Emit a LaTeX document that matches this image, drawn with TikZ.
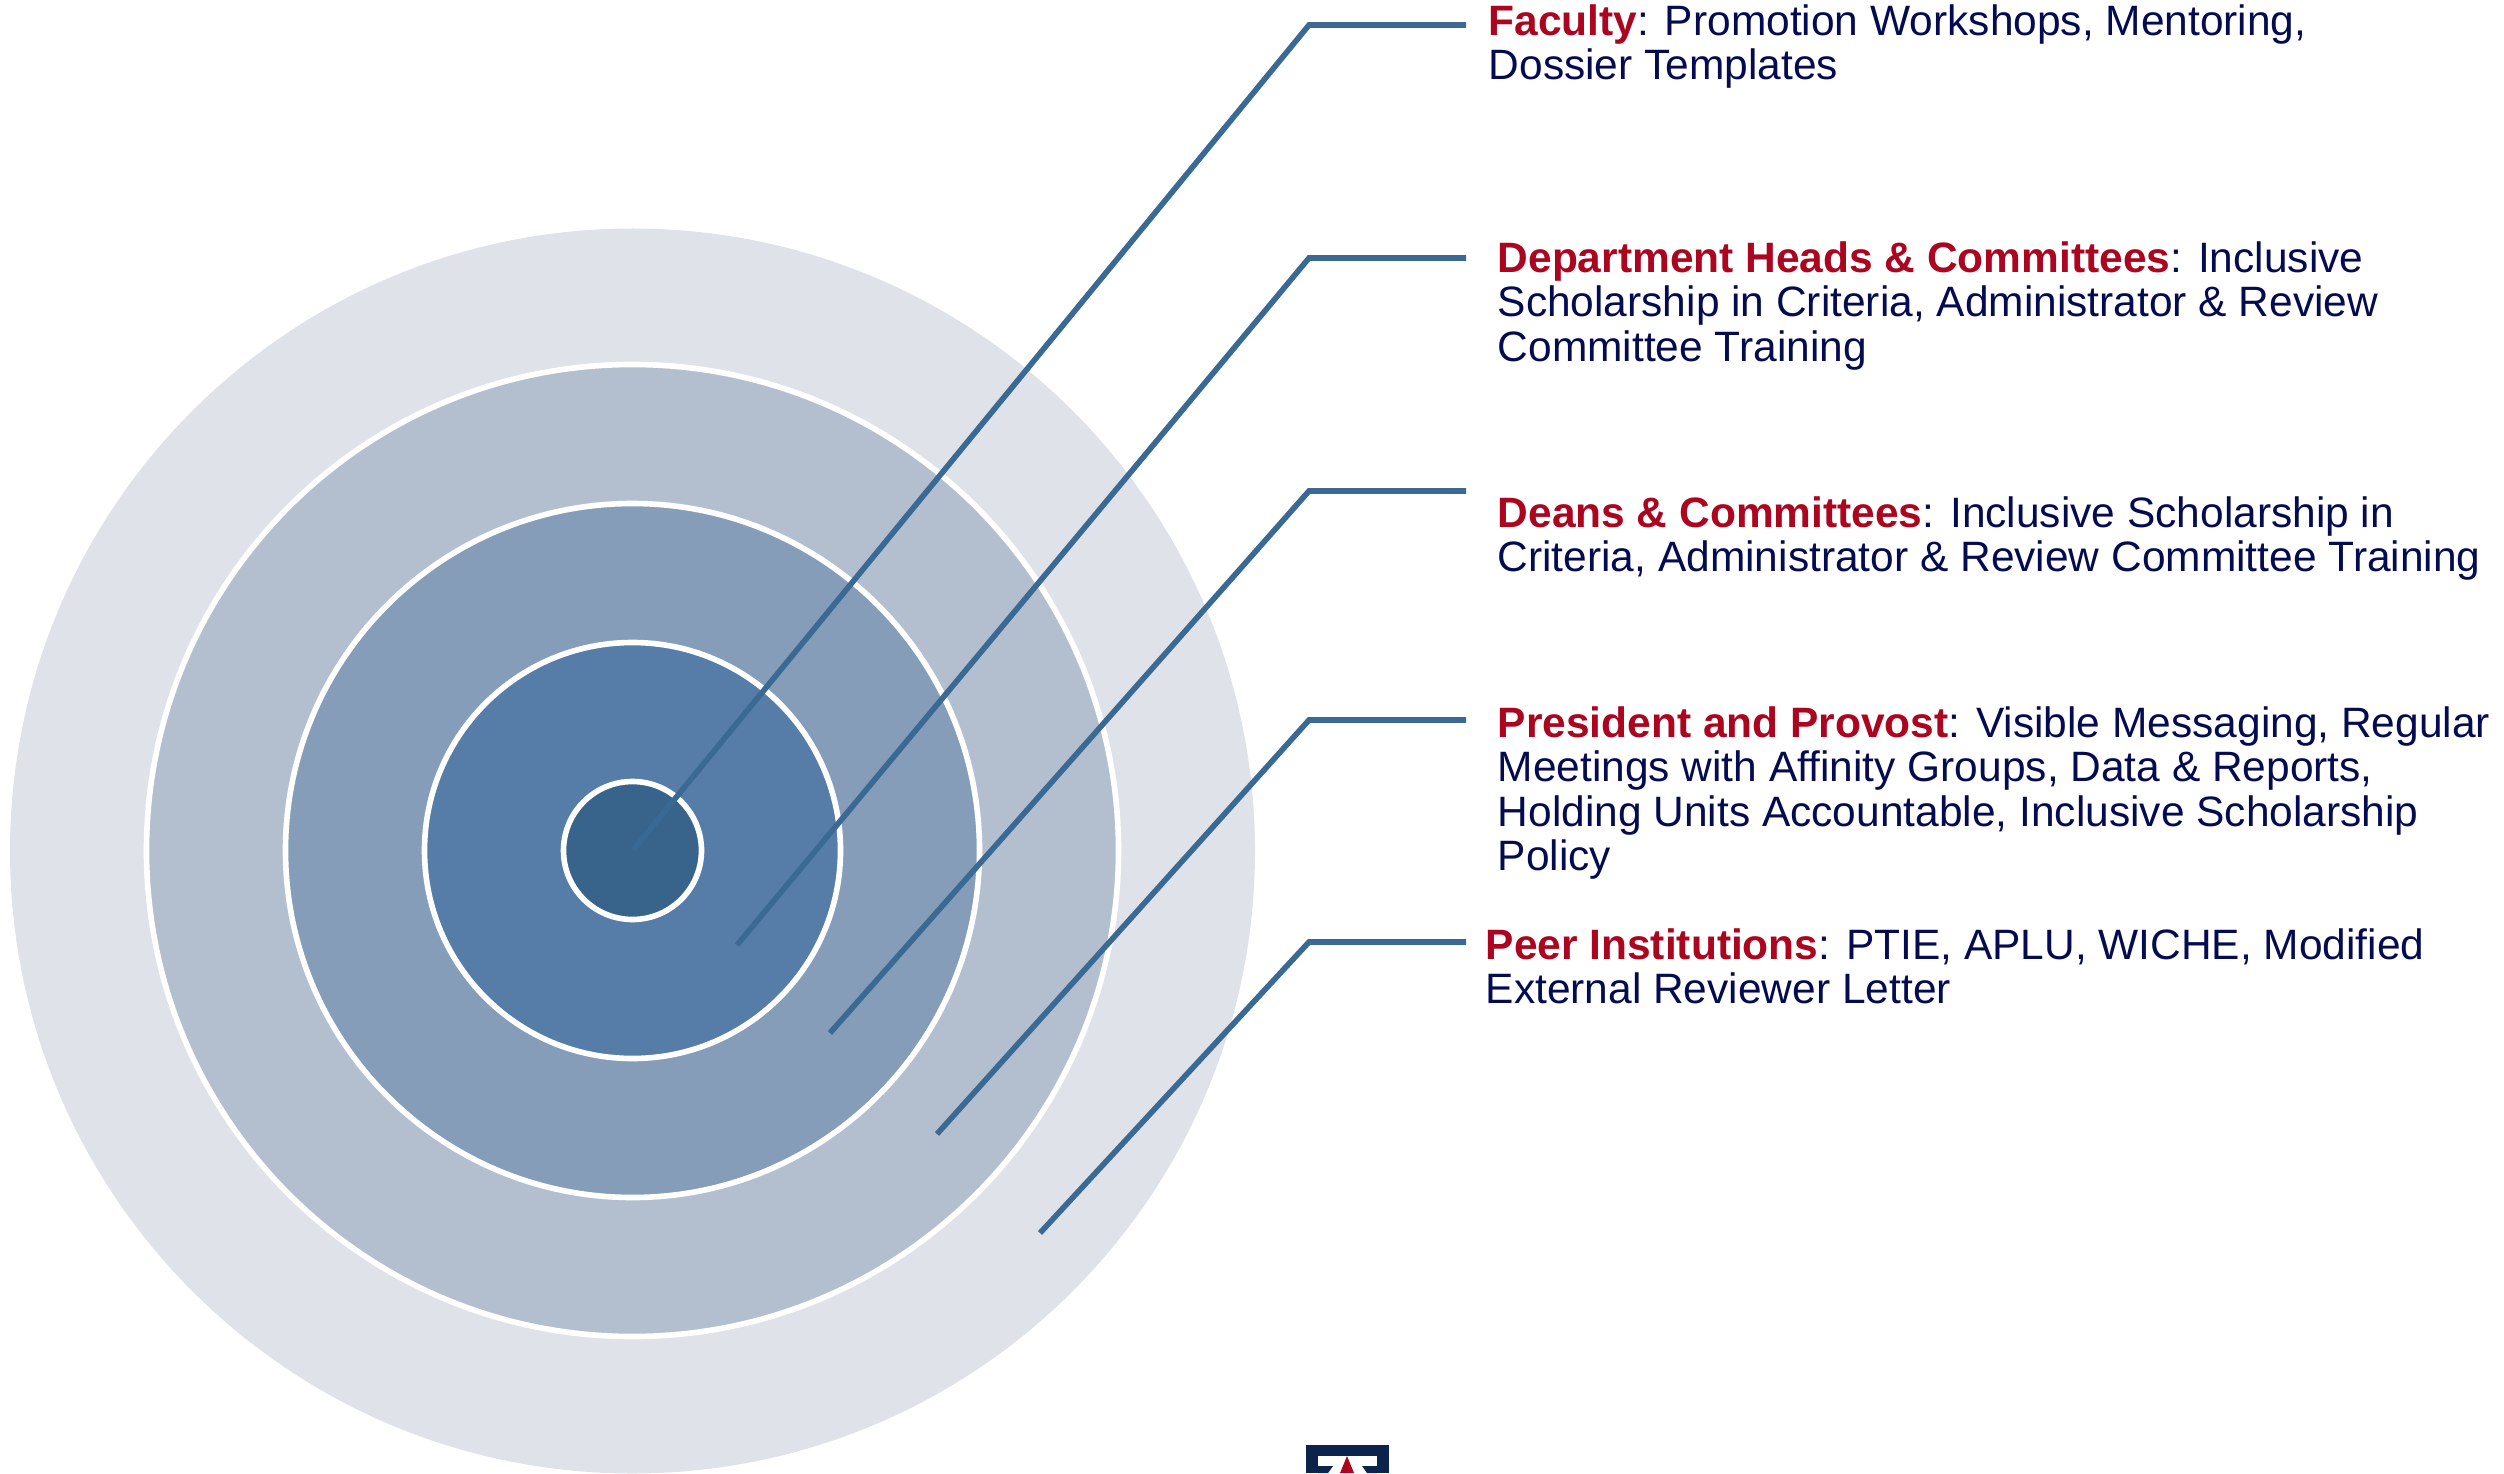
\documentclass[tikz,border=0pt]{standalone}
\usepackage{fontspec}
\setmainfont{Liberation Sans}
\usepackage{xcolor}
\usetikzlibrary{positioning,calc}
\definecolor{leaderblue}{HTML}{3A6A94}
\definecolor{labelnavy}{HTML}{040B50}
\definecolor{labelred}{HTML}{AB0520}
\definecolor{logonavy}{HTML}{0C234B}
\definecolor{outerring}{HTML}{DFE2E9}
\tikzset{
    leader/.style={draw=leaderblue, line width=1.6pt, line join=miter},
    ring/.style={draw=white, line width=1.6pt},
    lbl/.style={anchor=north west, inner sep=0pt, align=left, text=labelnavy,
        font=\fontsize{12.08pt}{12.65pt}\selectfont},
}
\newcommand{\hd}[1]{\textcolor{labelred}{\textbf{#1}}}
\begin{document}
\begin{tikzpicture}[x=0.01cm,y=-0.01cm]
            \useasboundingbox (0,0) rectangle (2504,1473);
            % draw the rings
            \fill[outerring] (632.5,851) circle (622.5);
            \foreach \r/\c in {486/B3BFCF,347/859DB8,208/567DA8,69/38638B}
            {
                \definecolor{ringfill}{HTML}{\c}
                \filldraw[ring, fill=ringfill] (632.5,850.5) circle (\r);
            }
            % draw the leaders
            \foreach \name/\x/\y/\ey in {fac/633/850/25,dept/737/945/258,dean/830/1033/491,pres/937/1134/720,peer/1040/1233/942}
            {
                \coordinate (\name in) at (\x,\y);
                \coordinate (\name elbow) at (1309,\ey);
                \coordinate (\name out) at (1466,\ey);
                \draw[leader] (\name in) -- (\name elbow) -- (\name out);
            }
            % draw the labels
            \node[lbl] (faclbl) at (1488,4) {\hd{Faculty}: Promotion Workshops, Mentoring,\\Dossier Templates};
            \node[lbl] (deptlbl) at (1497,241) {\hd{Department Heads \& Committees}: Inclusive\\Scholarship in Criteria, Administrator \& Review\\Committee Training};
            \node[lbl] (deanlbl) at (1497,496) {\hd{Deans \& Committees}: Inclusive Scholarship in\\Criteria, Administrator \& Review Committee Training};
            \node[lbl] (preslbl) at (1497,706) {\hd{President and Provost}: Visible Messaging, Regular\\Meetings with Affinity Groups, Data \& Reports,\\Holding Units Accountable, Inclusive Scholarship\\Policy};
            \node[lbl] (peerlbl) at (1485,928) {\hd{Peer Institutions}: PTIE, APLU, WICHE, Modified\\External Reviewer Letter};
            % draw the logo
            \fill[logonavy] (1306,1445) rectangle (1389,1473);
            \fill[white] (1318,1456) rectangle (1377,1473);
            \fill[logonavy] (1318,1473) -- (1318,1466) -- (1333,1466) -- (1328,1473) -- cycle;
            \fill[logonavy] (1377,1473) -- (1377,1466) -- (1362,1466) -- (1367,1473) -- cycle;
            \fill[labelred] (1347,1456) -- (1354,1473) -- (1340,1473) -- cycle;
        \end{tikzpicture}
\end{document}
